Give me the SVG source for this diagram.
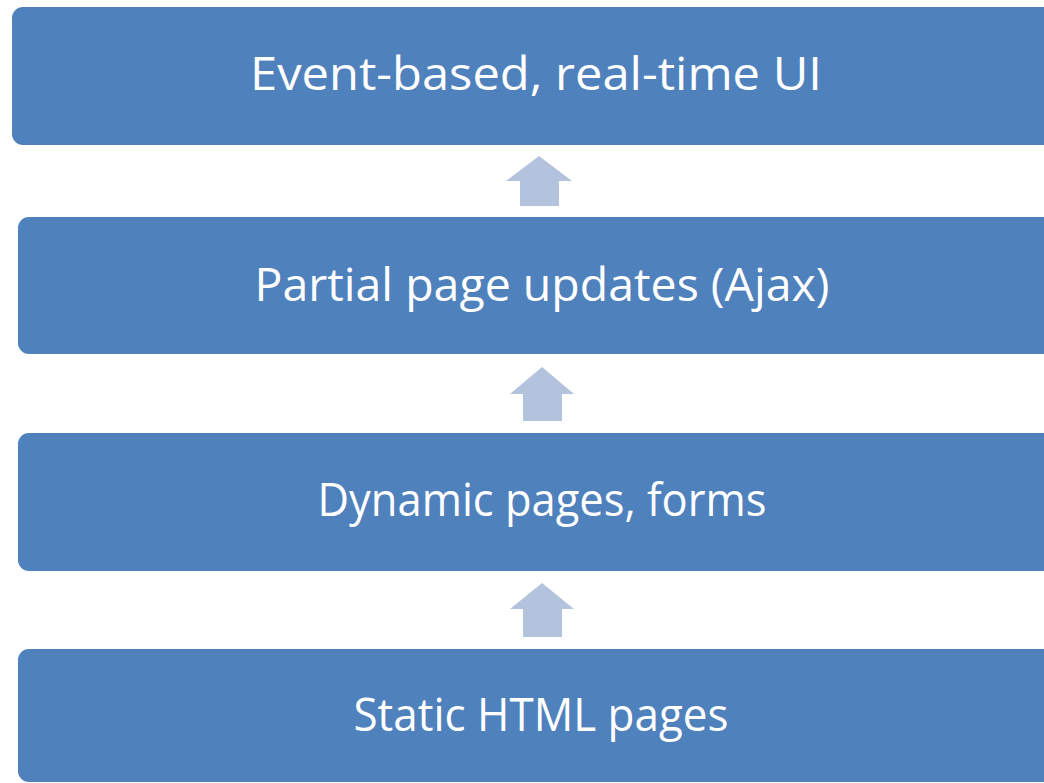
<svg xmlns="http://www.w3.org/2000/svg" width="1044" height="783" viewBox="0 0 1044 783">
  <style>
    .box { fill: #4F81BD; }
    .label { fill: #FFFFFF; font-family: "Open Sans", "Noto Sans", "Liberation Sans", sans-serif; font-size: 45px; text-anchor: middle; }
    .up { fill: #B3C3DE; }
  </style>
  <rect width="1044" height="783" fill="#FFFFFF"/>

  <g id="node-event-ui">
    <rect class="box" x="12" y="7" width="1050" height="138" rx="11" ry="11"/>
    <text class="label" x="536" y="90" textLength="572" lengthAdjust="spacingAndGlyphs">Event-based, real-time UI</text>
  </g>

  <g id="node-ajax">
    <rect class="box" x="18" y="217" width="1050" height="137" rx="11" ry="11"/>
    <text class="label" x="542" y="301" textLength="575" lengthAdjust="spacingAndGlyphs">Partial page updates (Ajax)</text>
  </g>

  <g id="node-dynamic">
    <rect class="box" x="18" y="433" width="1050" height="138" rx="11" ry="11"/>
    <text class="label" x="542" y="516" textLength="449" lengthAdjust="spacingAndGlyphs">Dynamic pages, forms</text>
  </g>

  <g id="node-static">
    <rect class="box" x="18" y="649" width="1050" height="133" rx="11" ry="11"/>
    <text class="label" x="541" y="731" textLength="375" lengthAdjust="spacingAndGlyphs">Static HTML pages</text>
  </g>

  <!-- block arrows pointing up between layers -->
  <g id="connectors">
    <polygon class="up" points="539,156 572,181 559,181 559,206 520,206 520,181 506,181"/>
    <polygon class="up" points="542,367 574,394 562,394 562,421 523,421 523,394 510,394"/>
    <polygon class="up" points="542,583 574,609 562,609 562,637 523,637 523,609 510,609"/>
  </g>
</svg>
